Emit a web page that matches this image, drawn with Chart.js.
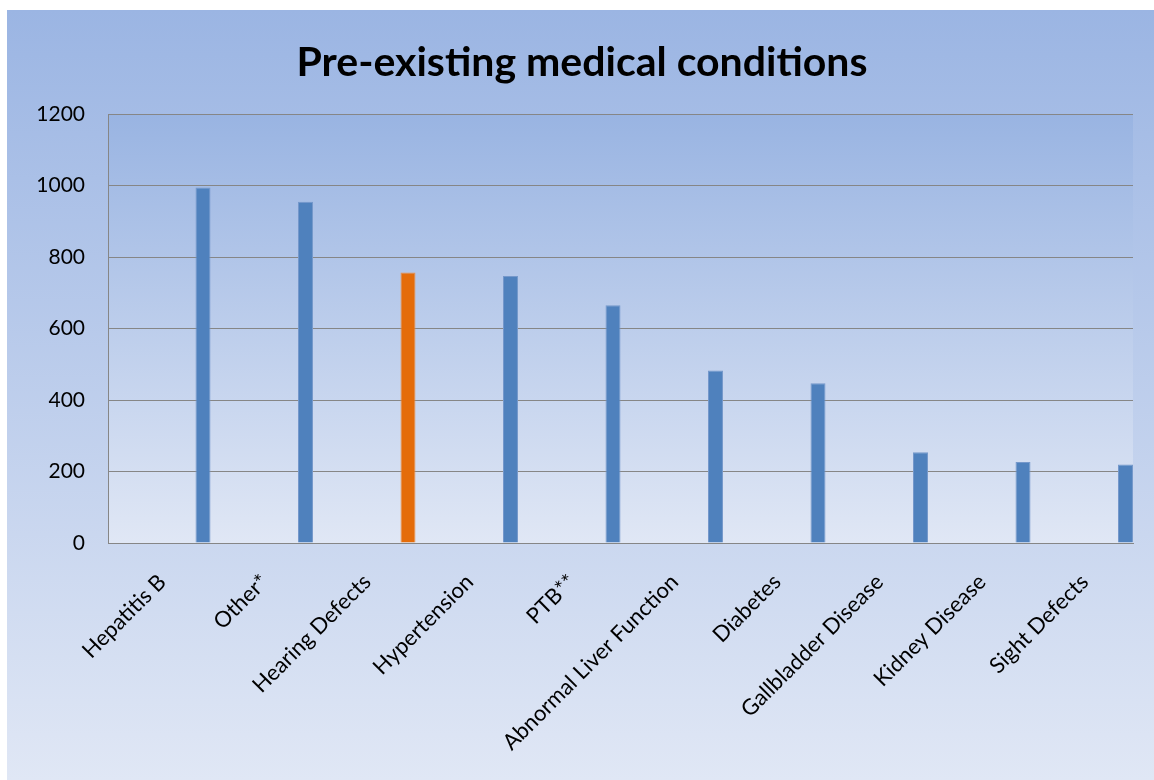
<!DOCTYPE html>
<html>
<head>
<meta charset="utf-8">
<title>Pre-existing medical conditions</title>
<script src="https://cdn.jsdelivr.net/npm/chart.js@4.4.1/dist/chart.umd.min.js"></script>
<style>
  html, body { margin: 0; padding: 0; background: #fff; }
  canvas { display: block; }
</style>
</head>
<body>
<canvas id="chart" width="1154" height="780"></canvas>
<script>
'use strict';

// data
const conditions = ['Hepatitis B', 'Other*', 'Hearing Defects', 'Hypertension', 'PTB**',
  'Abnormal Liver Function', 'Diabetes', 'Gallbladder Disease', 'Kidney Disease', 'Sight Defects'];
const cases = [995, 955, 757, 747, 665, 483, 447, 254, 227, 220];
const highlighted = [false, false, true, false, false, false, false, false, false, false];
const yTicks = [0, 200, 400, 600, 800, 1000, 1200];

const FONT = 'Lato, "Open Sans", sans-serif';

// paints the blue gradients behind the chart and behind the plot area
const backdrop = {
  id: 'backdrop',
  beforeDraw(chart) {
    const { ctx, chartArea: a } = chart;
    ctx.save();
    ctx.fillStyle = '#ffffff';
    ctx.fillRect(0, 0, chart.width, chart.height);

    let g = ctx.createLinearGradient(0, 10, 0, chart.height);
    g.addColorStop(0, '#9bb5e3');
    g.addColorStop(1, '#e0e7f5');
    ctx.fillStyle = g;
    ctx.fillRect(7, 10, chart.width - 7, chart.height - 10);

    g = ctx.createLinearGradient(0, a.top, 0, a.bottom);
    g.addColorStop(0, '#99b4e2');
    g.addColorStop(1, '#e0e7f5');
    ctx.fillStyle = g;
    ctx.fillRect(a.left, a.top, a.right - a.left, a.bottom - a.top);
    ctx.restore();
  }
};

let canvasElem = document.getElementById('chart');

const data = {
  labels: conditions,
  datasets: [{
    // empty first series, the bars sit in the right half of each slot like in the original
    label: '',
    data: [],
  }, {
    label: 'Cases',
    data: cases,
    backgroundColor: highlighted.map(h => h ? '#e46c0a' : '#4f81bd'),
    borderColor: highlighted.map(h => h ? '#ef9044' : '#7598cb'),
    borderWidth: 1,
  }]
};

const config = {
  type: 'bar',
  data: data,
  plugins: [backdrop],
  options: {
    responsive: false,
    animation: false,
    categoryPercentage: 1.707,
    barPercentage: 0.1714,
    layout: { padding: { left: 31, right: 21, top: 0, bottom: 0 } },
    plugins: {
      legend: { display: false },
      tooltip: { enabled: false },
      title: {
        display: true,
        text: 'Pre-existing medical conditions',
        color: '#000',
        font: { family: FONT, size: 41, weight: 'bold', lineHeight: 1.2 },
        padding: { top: 38, bottom: 27 },
      },
    },
    scales: {
      x: {
        grid: { display: false, drawTicks: false },
        border: { display: true, color: '#868686', width: 1 },
        ticks: {
          color: '#000',
          font: { family: FONT, size: 22 },
          minRotation: 45,
          maxRotation: 45,
          autoSkip: false,
          padding: 26,
          labelOffset: 3,
        },
        afterFit(scale) { scale.height = 237; },
      },
      y: {
        min: 0,
        max: 1200,
        afterBuildTicks(scale) { scale.ticks = yTicks.map(v => ({ value: v })); },
        grid: { color: '#868686', lineWidth: 1, drawTicks: false },
        border: { display: true, color: '#868686', width: 1 },
        ticks: {
          color: '#000',
          font: { family: FONT, size: 21 },
          padding: 23,
          callback: v => String(v),
        },
        afterFit(scale) { scale.width = 77; },
      },
    },
  },
};

function renderChart() {
  new Chart(canvasElem, config);
}

renderChart();
</script>
</body>
</html>
